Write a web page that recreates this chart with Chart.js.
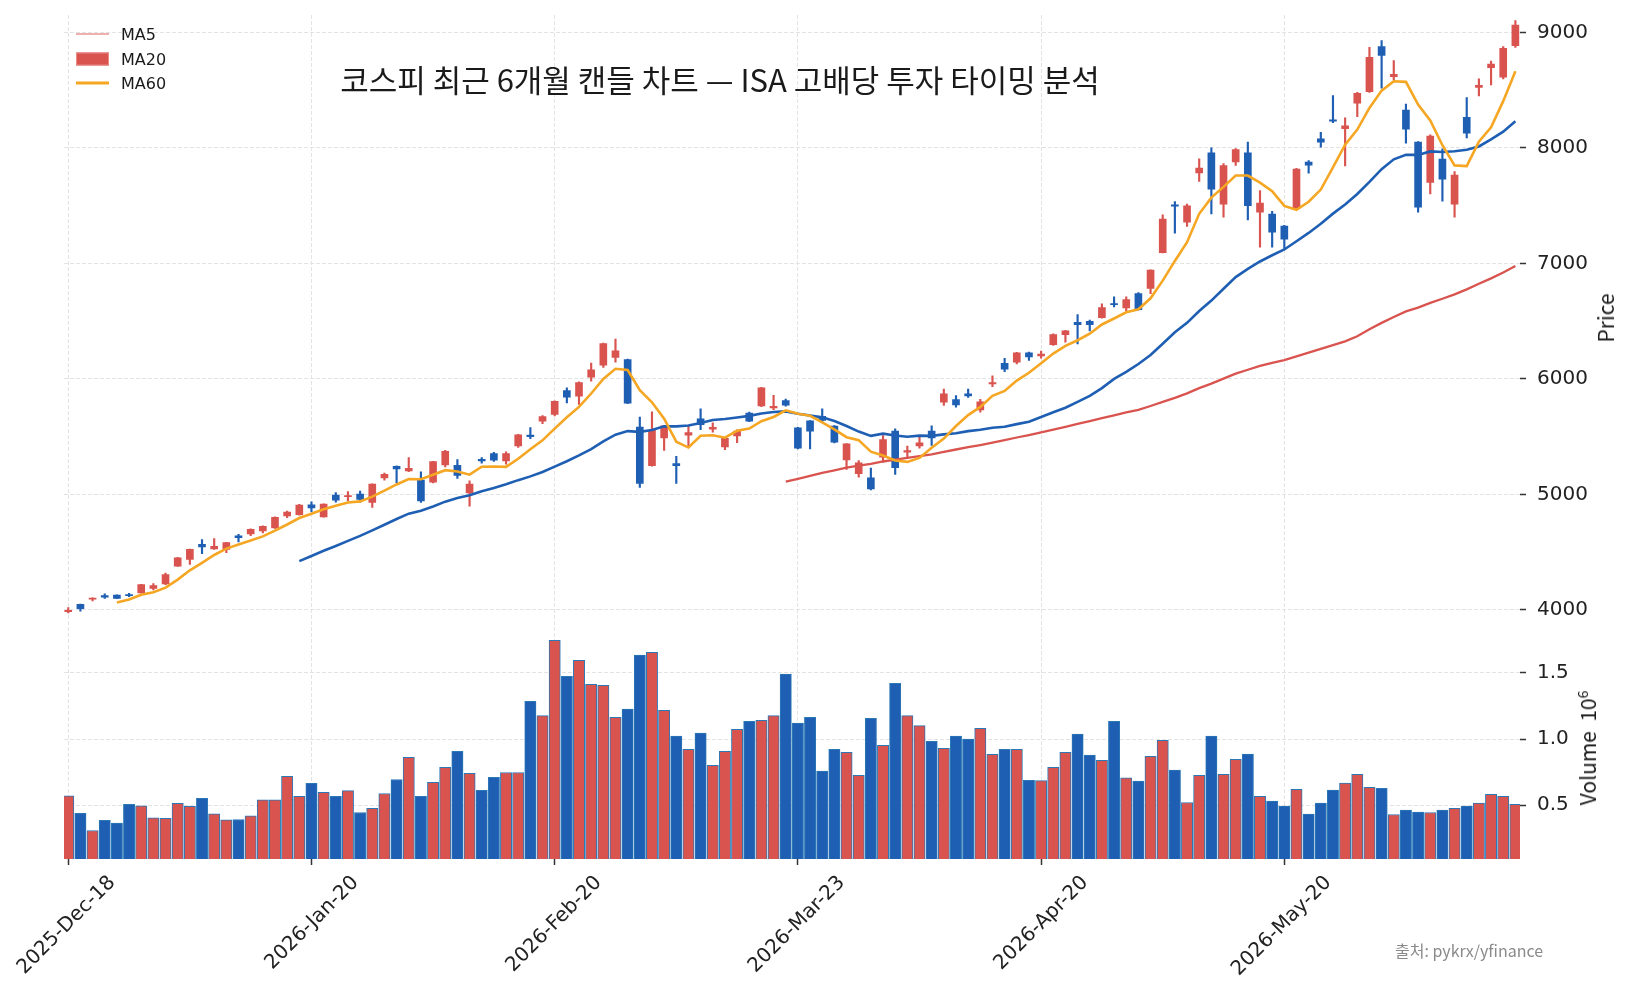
<!DOCTYPE html>
<html>
<head>
<meta charset="utf-8">
<title>코스피 최근 6개월 캔들 차트</title>
<script src="https://cdn.jsdelivr.net/npm/chart.js@4.4.0/dist/chart.umd.min.js"></script>
<style>
    body { margin: 0; background: #fff; }
    #wrap { position: relative; width: 1632px; height: 999px; font-family: 'DejaVu Sans', 'Noto Sans CJK KR', sans-serif; color: #1a1a1a; }
    #kospiChart { position: absolute; left: 0; top: 0; }
    .abs { position: absolute; white-space: nowrap; pointer-events: none; }
    #title { left: 720px; top: 78px; font-size: 31px; font-family: 'Noto Sans CJK KR', sans-serif; transform: translate(-50%, -50%); }
    .leg { left: 76px; font-size: 16px; display: flex; align-items: center; transform: translateY(-50%); }
    .sw { width: 33px; margin-right: 12px; }
    .sw.thin { height: 1px; background: #e0605c; }
    .sw.box { background: #d9534f; border: 1px solid #ea8a86; box-sizing: border-box; height: 13px; }
    .sw.thick { height: 3px; background: #f5a623; }
    #source { left: 1395px; top: 950px; font-size: 16px; color: #8a8a8a; font-family: 'Noto Sans CJK KR', sans-serif; transform: translateY(-50%); }
    .ylab { font-size: 21px; font-family: 'Noto Sans CJK KR', sans-serif; transform: translate(-50%, -50%) rotate(-90deg); }
    .ylab sup { font-size: 14px; }
</style>
</head>
<body>
<div id="wrap">
    <canvas id="kospiChart" width="1632" height="999"></canvas>
    <div class="abs" id="title">코스피 최근 6개월 캔들 차트 — ISA 고배당 투자 타이밍 분석</div>
    <div class="abs leg" style="top:34px"><span class="sw thin"></span>MA5</div>
    <div class="abs leg" style="top:59px"><span class="sw box"></span>MA20</div>
    <div class="abs leg" style="top:83px"><span class="sw thick"></span>MA60</div>
    <div class="abs ylab" style="left:1605px; top:318px">Price</div>
    <div class="abs ylab" style="left:1587px; top:748px">Volume&nbsp;&nbsp;10<sup>6</sup></div>
    <div class="abs" id="source">출처: pykrx/yfinance</div>
</div>
<script>
// x positions are trading-day indexes, tick labels every 20 sessions
const tickIdx = [0, 20, 40, 60, 80, 100];
const tickLabels = ['2025-Dec-18', '2026-Jan-20', '2026-Feb-20', '2026-Mar-23', '2026-Apr-20', '2026-May-20'];

const opens = [3985,4050,4093,4125,4130,4133,4148,4186,4226,4380,
    4438,4568,4528,4525,4641,4658,4684,4710,4815,4824,
    4910,4806,4994,4980,5003,4931,5144,5244,5204,5124,
    5106,5256,5253,5014,5305,5353,5290,5420,5514,5635,
    5693,5900,5851,6015,6118,6187,6167,5583,5250,5489,
    5267,5514,5655,5566,5411,5506,5704,5767,5750,5813,
    5576,5637,5677,5591,5300,5179,5144,5323,5548,5366,
    5421,5548,5798,5821,5870,5732,5957,6135,6144,6225,
    6200,6296,6383,6490,6498,6530,6652,6614,6739,6783,
    7093,7507,7357,7783,7957,7513,7878,7957,7444,7427,
    7323,7478,7876,8078,8242,8167,8386,8487,8876,8617,
    8326,8049,7700,7902,7513,8265,8524,8695,8611,8885];

const highs = [4020,4052,4106,4139,4132,4145,4222,4229,4319,4455,
    4528,4609,4618,4586,4655,4702,4728,4806,4856,4914,
    4936,4919,5017,5025,5029,5092,5184,5247,5319,5195,
    5287,5382,5302,5118,5319,5365,5368,5520,5578,5683,
    5810,5922,5975,6138,6310,6345,6172,5670,5716,5598,
    5330,5589,5741,5620,5490,5560,5712,5928,5859,5825,
    5580,5640,5741,5596,5441,5294,5228,5510,5568,5418,
    5496,5594,5913,5856,5913,5824,6026,6179,6230,6232,
    6240,6390,6420,6557,6510,6649,6710,6710,6748,6945,
    7420,7536,7513,7904,8000,7864,7994,8049,7631,7450,
    7330,7822,7890,8135,8452,8259,8480,8870,8928,8755,
    8380,8055,8112,7991,7795,8435,8597,8752,8876,9101];

const lows = [3975,3990,4078,4101,4099,4116,4145,4174,4220,4378,
    4394,4487,4525,4496,4590,4644,4667,4707,4800,4820,
    4849,4803,4934,4945,4934,4888,5124,5100,5198,4931,
    5100,5238,5138,4899,5270,5285,5262,5408,5483,5612,
    5679,5793,5779,5980,6100,6144,5785,5060,5245,5382,
    5095,5420,5560,5540,5388,5449,5630,5760,5733,5765,
    5395,5395,5630,5447,5216,5150,5040,5280,5173,5317,
    5400,5424,5770,5755,5841,5712,5934,6063,6130,6160,
    6180,6290,6319,6304,6415,6525,6623,6588,6595,6739,
    7090,7261,7319,7710,7429,7400,7847,7377,7141,7141,
    7130,7475,7781,8006,8219,7844,8271,8480,8516,8588,
    8040,7444,7602,7539,7401,8086,8450,8545,8597,8870];

const closes = [3998,4012,4104,4110,4101,4125,4220,4212,4307,4452,
    4525,4545,4551,4583,4626,4699,4725,4803,4847,4908,
    4884,4916,4951,4991,4957,5089,5175,5221,5227,4945,
    5284,5374,5164,5089,5290,5296,5353,5517,5500,5675,
    5805,5842,5969,6078,6305,6244,5790,5095,5555,5595,
    5250,5535,5604,5580,5486,5549,5635,5922,5762,5773,
    5400,5548,5640,5452,5438,5274,5049,5476,5231,5380,
    5447,5490,5870,5775,5852,5801,5968,6084,6225,6190,
    6215,6383,6417,6470,6470,6617,6642,6687,6600,6942,
    7383,7495,7499,7826,7643,7847,7986,7499,7522,7271,
    7210,7816,7850,8049,8230,8190,8473,8784,8801,8637,
    8161,7487,8101,7729,7764,8127,8542,8726,8862,9063];

// volume in millions of shares
const volumes = [0.571,0.437,0.308,0.384,0.364,0.505,0.495,0.404,0.399,0.513,
    0.490,0.551,0.434,0.389,0.391,0.419,0.540,0.540,0.717,0.566,
    0.664,0.596,0.566,0.609,0.444,0.475,0.588,0.694,0.861,0.566,
    0.672,0.785,0.907,0.740,0.611,0.710,0.747,0.747,1.285,1.177,
    1.747,1.475,1.596,1.414,1.407,1.164,1.227,1.636,1.657,1.217,
    1.023,0.922,1.045,0.801,0.907,1.073,1.134,1.141,1.177,1.492,
    1.121,1.164,0.758,0.922,0.899,0.725,1.157,0.952,1.422,1.177,
    1.101,0.982,0.929,1.023,1.000,1.081,0.884,0.922,0.922,0.687,
    0.685,0.785,0.899,1.038,0.879,0.838,1.134,0.707,0.682,0.869,
    0.990,0.765,0.520,0.725,1.023,0.732,0.846,0.886,0.566,0.530,
    0.492,0.619,0.432,0.515,0.614,0.667,0.732,0.634,0.626,0.429,
    0.462,0.447,0.444,0.462,0.475,0.492,0.515,0.581,0.566,0.505];

const priceTicks = [4000, 5000, 6000, 7000, 8000, 9000];
const volTicks = [0.5, 1.0, 1.5];

const UP = 'rgb(217, 83, 79)';
const DOWN = 'rgb(31, 95, 179)';
const ORANGE = '#f5a623';
const GRID = '#e3e3e3';

function movingAverage(values, n) {
    var out = [];
    for (let i = n - 1; i < values.length; i++) {
        let sum = 0;
        for (let j = i - n + 1; j <= i; j++) {
            sum += values[j];
        }
        out.push({x: i, y: sum / n});
    }
    return out;
}

var candleColors = [];
var wickData = [];
var bodyData = [];
var volData = [];
for (let i = 0; i < closes.length; i++) {
    candleColors.push(closes[i] >= opens[i] ? UP : DOWN);
    wickData.push({x: i, y: [lows[i], highs[i]]});
    bodyData.push({x: i, y: [opens[i], closes[i]]});
    volData.push({x: i, y: volumes[i]});
}

Chart.defaults.font.family = "'DejaVu Sans', 'Noto Sans CJK KR', sans-serif";
Chart.defaults.color = '#222';

function fixWidth(scale) {
    scale.width = 112;
    scale.paddingTop = 0;
    scale.paddingBottom = 0;
}

const ctx = document.getElementById('kospiChart').getContext('2d');
const chart = new Chart(ctx, {
    type: 'bar',
    data: {
        datasets: [
            {type: 'line', label: 'MA5', data: movingAverage(closes, 5), borderColor: ORANGE, borderWidth: 2.6, pointRadius: 0, yAxisID: 'price', order: 1},
            {type: 'line', label: 'MA20', data: movingAverage(closes, 20), borderColor: DOWN, borderWidth: 2.6, pointRadius: 0, yAxisID: 'price', order: 1},
            {type: 'line', label: 'MA60', data: movingAverage(closes, 60), borderColor: UP, borderWidth: 2.3, pointRadius: 0, yAxisID: 'price', order: 1},
            {label: 'wick', data: wickData, backgroundColor: candleColors, barThickness: 1.5, grouped: false, yAxisID: 'price', order: 2},
            {label: 'body', data: bodyData, backgroundColor: candleColors, barThickness: 7, grouped: false, yAxisID: 'price', order: 2},
            {label: 'volume', data: volData, backgroundColor: candleColors, borderColor: '#2b78b6', borderWidth: 1,
                barThickness: 11.3, grouped: false, base: 0.092, yAxisID: 'vol', order: 3}
        ]
    },
    options: {
        responsive: false,
        animation: false,
        events: [],
        layout: {padding: {left: 64, top: 15, right: 0, bottom: 0}},
        plugins: {legend: {display: false}, tooltip: {enabled: false}},
        scales: {
            x: {
                type: 'linear',
                min: -0.35,
                max: 119.38,
                offset: false,
                afterBuildTicks: function(scale) {
                    scale.ticks = tickIdx.map(v => ({value: v}));
                },
                afterFit: function(scale) {
                    scale.height = 140;
                    scale.paddingLeft = 0;
                    scale.paddingRight = 0;
                },
                ticks: {
                    autoSkip: false,
                    minRotation: 45,
                    maxRotation: 45,
                    labelOffset: 44,
                    padding: 6,
                    font: {size: 20},
                    callback: function(value) {
                        return tickLabels[tickIdx.indexOf(value)];
                    }
                },
                grid: {offset: false, color: GRID, tickColor: '#333', tickLength: 6, tickWidth: 1.5, tickBorderDash: []},
                border: {display: false, dash: [4, 2]}
            },
            price: {
                type: 'linear',
                position: 'right',
                stack: 'panels',
                stackWeight: 602.5,
                min: 3935,
                max: 9150,
                afterBuildTicks: function(scale) {
                    scale.ticks = priceTicks.map(v => ({value: v}));
                },
                afterFit: fixWidth,
                ticks: {padding: 11, font: {size: 20}, callback: v => String(v)},
                grid: {color: GRID, tickColor: '#333', tickLength: 6, tickWidth: 1.5, tickBorderDash: []},
                border: {display: false, dash: [4, 2]}
            },
            vol: {
                type: 'linear',
                position: 'right',
                stack: 'panels',
                stackWeight: 241.5,
                min: 0.092,
                max: 1.92,
                afterBuildTicks: function(scale) {
                    scale.ticks = volTicks.map(v => ({value: v}));
                },
                afterFit: fixWidth,
                ticks: {padding: 11, font: {size: 20}, callback: v => v.toFixed(1)},
                grid: {color: GRID, tickColor: '#333', tickLength: 6, tickWidth: 1.5, tickBorderDash: []},
                border: {display: false, dash: [4, 2]}
            }
        }
    }
});
</script>
</body>
</html>
